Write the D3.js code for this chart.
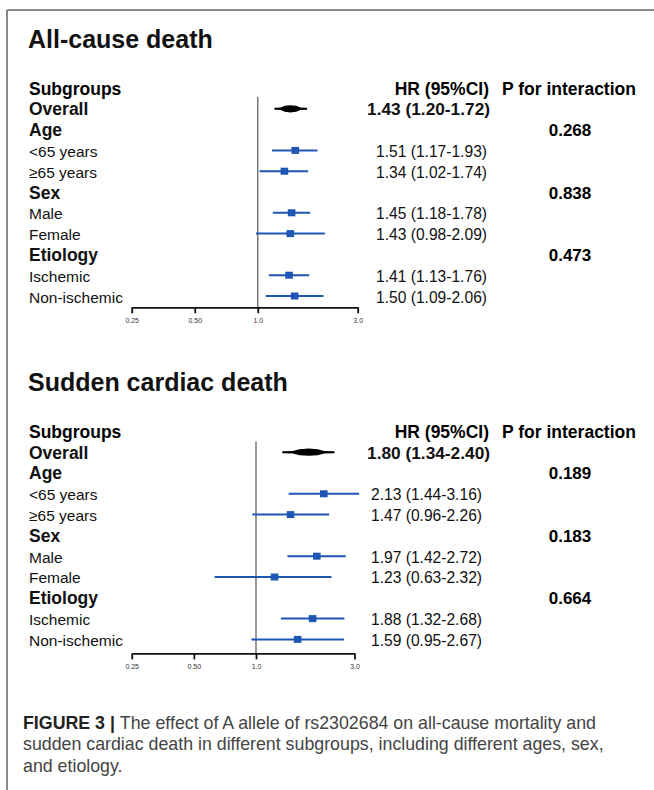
<!DOCTYPE html>
<html>
<head>
<meta charset="utf-8">
<script src="https://cdn.jsdelivr.net/npm/d3@7"></script>
<style>
  html, body { margin: 0; padding: 0; background: #fff; }
  svg { display: block; font-family: "Liberation Sans", Arial, sans-serif; }
</style>
</head>
<body>
<svg id="chart" width="654" height="790"></svg>
<script>
// rows shared by both panels
const rowLabels = ["Overall", "Age", "<65 years", "≥65 years", "Sex", "Male", "Female", "Etiology", "Ischemic", "Non-ischemic"];
const rowIsHeader = [true, true, false, false, true, false, false, true, false, false];

// All-cause death
const allCauseHR = [1.43, null, 1.51, 1.34, null, 1.45, 1.43, null, 1.41, 1.50];
const allCauseLo = [1.20, null, 1.17, 1.02, null, 1.18, 0.98, null, 1.13, 1.09];
const allCauseHi = [1.72, null, 1.93, 1.74, null, 1.78, 2.09, null, 1.76, 2.06];
const allCauseP = ["", "0.268", "", "", "0.838", "", "", "0.473", "", ""];

// Sudden cardiac death
const scdHR = [1.80, null, 2.13, 1.47, null, 1.97, 1.23, null, 1.88, 1.59];
const scdLo = [1.34, null, 1.44, 0.96, null, 1.42, 0.63, null, 1.32, 0.95];
const scdHi = [2.40, null, 3.16, 2.26, null, 2.72, 2.32, null, 2.68, 2.67];
const scdP = ["", "0.189", "", "", "0.183", "", "", "0.664", "", ""];

const tickValues = [0.25, 0.5, 1.0, 3.0];
const tickLabels = ["0.25", "0.50", "1.0", "3.0"];

const captionLines = [
  [["FIGURE 3 | ", true], ["The effect of A allele of rs2302684 on all-cause mortality and", false]],
  [["sudden cardiac death in different subgroups, including different ages, sex,", false]],
  [["and etiology.", false]]
];

const svg = d3.select("#chart");
const blue = "#1d56b3";
const fmt = d3.format(".2f");

// frame
svg.append("line").attr("x1", 7).attr("x2", 654).attr("y1", 10).attr("y2", 10)
  .attr("stroke", "#8a8a8a").attr("stroke-width", 2);
svg.append("line").attr("x1", 7).attr("x2", 7).attr("y1", 10).attr("y2", 790)
  .attr("stroke", "#8a8a8a").attr("stroke-width", 2);

function panel(opts) {
  const g = svg.append("g").attr("transform", `translate(0,${opts.top})`);
  const rowH = 20.8;
  const base0 = 94.5; // baseline of header row
  const baseY = (i) => base0 + (i + 1) * rowH;
  const markY = (i) => baseY(i) - 6.5;

  const x = d3.scaleLog().domain([0.25, 3]).range(opts.range);

  g.append("text").attr("x", 28).attr("y", 48)
    .attr("font-size", 25).attr("font-weight", "bold").attr("fill", "#111")
    .text(opts.title);

  // headers
  g.append("text").attr("x", 29).attr("y", base0).attr("font-size", 17.5)
    .attr("font-weight", "bold").text("Subgroups");
  g.append("text").attr("x", 489).attr("y", base0).attr("text-anchor", "end")
    .attr("font-size", 17.5).attr("font-weight", "bold").text("HR (95%CI)");
  g.append("text").attr("x", 569).attr("y", base0).attr("text-anchor", "middle")
    .attr("font-size", 17.5).attr("font-weight", "bold").text("P for interaction");

  // row labels
  g.selectAll(".lab").data(rowLabels).join("text")
    .attr("class", "lab")
    .attr("x", 29).attr("y", (d, i) => baseY(i))
    .attr("font-size", (d, i) => rowIsHeader[i] ? 17.5 : 15.5)
    .attr("font-weight", (d, i) => rowIsHeader[i] ? "bold" : "normal")
    .attr("fill", "#111")
    .text(d => d);

  // HR text
  const rows = opts.hr.map((v, i) => ({ hr: v, lo: opts.lo[i], hi: opts.hi[i], p: opts.p[i], i }));
  const est = rows.filter(r => r.hr != null);
  g.selectAll(".hrt").data(est).join("text")
    .attr("class", "hrt")
    .attr("x", r => r.i === 0 ? 490 : opts.textEnd)
    .attr("y", r => baseY(r.i))
    .attr("text-anchor", "end")
    .attr("font-size", r => r.i === 0 ? 17.3 : 15.6)
    .attr("font-weight", r => r.i === 0 ? "bold" : "normal")
    .attr("fill", "#111")
    .text(r => `${fmt(r.hr)} (${fmt(r.lo)}-${fmt(r.hi)})`);

  g.selectAll(".pv").data(rows.filter(r => r.p)).join("text")
    .attr("class", "pv")
    .attr("x", 570).attr("y", r => baseY(r.i))
    .attr("text-anchor", "middle").attr("font-size", 17)
    .attr("font-weight", "bold").text(r => r.p);

  // axis
  const axisY = opts.axisY;
  g.append("line").attr("x1", x(1)).attr("x2", x(1))
    .attr("y1", opts.refTop).attr("y2", axisY)
    .attr("stroke", "#555").attr("stroke-width", 1.2);

  const ax = g.append("g").attr("transform", `translate(0,${axisY})`)
    .call(d3.axisBottom(x).tickValues(tickValues).tickSize(6).tickSizeOuter(0)
      .tickFormat((d, i) => tickLabels[i]));
  ax.select(".domain").attr("stroke", "#111").attr("stroke-width", 1.8);
  ax.selectAll(".tick line").attr("stroke", "#111").attr("stroke-width", 1.8);
  ax.selectAll(".tick text").attr("font-size", 7).attr("fill", "#333")
    .attr("y", 11).attr("font-family", "'Liberation Sans', Arial, sans-serif");

  // subgroup CI lines and squares
  const sub = est.filter(r => r.i !== 0);
  g.selectAll(".ci").data(sub).join("line")
    .attr("class", "ci")
    .attr("x1", r => x(r.lo)).attr("x2", r => x(r.hi))
    .attr("y1", r => markY(r.i)).attr("y2", r => markY(r.i))
    .attr("stroke", blue).attr("stroke-width", 2);
  g.selectAll(".sq").data(sub).join("rect")
    .attr("class", "sq")
    .attr("x", r => x(r.hr) - 3.8).attr("y", r => markY(r.i) - 3.5)
    .attr("width", 7.6).attr("height", 7)
    .attr("fill", blue);

  // overall estimate: thin ends with a lens around the HR
  const o = est[0];
  const cy = markY(0), xl = x(o.lo), xh = x(o.hi), xc = x(o.hr);
  const wl = xc - xl, wr = xh - xc;
  const pts = [
    [xl, cy - 1], [xc - 0.6 * wl, cy - 1.3], [xc - 0.35 * wl, cy - 3], [xc, cy - 3.6],
    [xc + 0.35 * wr, cy - 3], [xc + 0.6 * wr, cy - 1.3], [xh, cy - 1],
    [xh, cy + 1], [xc + 0.6 * wr, cy + 1.3], [xc + 0.35 * wr, cy + 3], [xc, cy + 3.6],
    [xc - 0.35 * wl, cy + 3], [xc - 0.6 * wl, cy + 1.3], [xl, cy + 1]
  ];
  g.append("path").attr("d", d3.line().curve(d3.curveLinearClosed)(pts)).attr("fill", "#000");
}

panel({
  top: 0, title: "All-cause death", range: [131.7, 357.7],
  hr: allCauseHR, lo: allCauseLo, hi: allCauseHi, p: allCauseP,
  axisY: 307.3, refTop: 96.7, textEnd: 487
});
panel({
  top: 343.4, title: "Sudden cardiac death", range: [131.7, 354.5],
  hr: scdHR, lo: scdLo, hi: scdHi, p: scdP,
  axisY: 310, refTop: 98.3, textEnd: 482
});

// caption
const cap = svg.append("g");
captionLines.forEach((parts, li) => {
  const t = cap.append("text").attr("x", 23).attr("y", 729 + li * 21.3)
    .attr("font-size", 17.8).attr("fill", "#444");
  parts.forEach(([s, b]) => {
    t.append("tspan").attr("font-weight", b ? "bold" : "normal")
      .attr("fill", b ? "#222" : "#444").text(s);
  });
});
</script>
</body>
</html>
